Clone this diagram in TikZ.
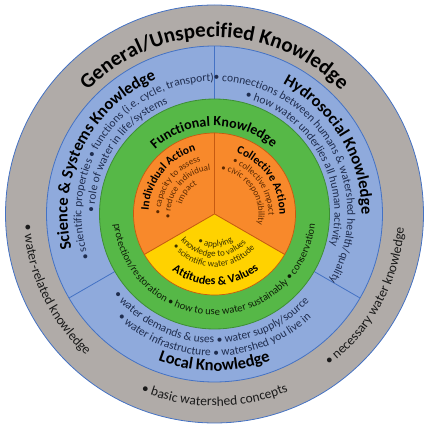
\documentclass[tikz,border=0pt]{standalone}
\usepackage{fontspec}
\setmainfont{Carlito}
\usetikzlibrary{decorations.text}
\definecolor{ringgray}{HTML}{B0ABA8}
\definecolor{ringblue}{HTML}{8FAADC}
\definecolor{lineblue}{HTML}{4472C4}
\definecolor{ringgreen}{HTML}{56B847}
\definecolor{linegreen}{HTML}{3E8E35}
\definecolor{secorange}{HTML}{F8892B}
\definecolor{lineorange}{HTML}{C65A11}
\definecolor{secyellow}{HTML}{FFD200}
\definecolor{graytext}{HTML}{1A1A1A}
\definecolor{bluetext}{HTML}{1F2D4F}
\definecolor{greentext}{HTML}{0E1F08}
\definecolor{browntext}{HTML}{5A2800}
\definecolor{olivetext}{HTML}{3D3300}
% #1 colour, #2 font, #3 radius, #4 start angle, #5 end angle, #6 text
\newcommand\ringtext[6]{%
  \path[decorate, decoration={text along path, text align=center,
    text color=#1, text={|#2|#6}}]
    (#4:#3) arc[start angle=#4, end angle=#5, radius=#3];}
\newcommand\fs[1]{\fontsize{#1}{#1}\selectfont}
\begin{document}
\begin{tikzpicture}[x=1pt, y=1pt,
  ringline/.style={line width=0.8pt},
  sector/.style={line width=0.7pt, draw=lineorange}]
\useasboundingbox (-214.5,-214) rectangle (214.5,214);
% rings
\fill[ringgray, draw=lineblue, ringline] (0,0) circle[radius=209];
\fill[ringblue, draw=lineblue, ringline] (0,0) circle[radius=168];
\draw[lineblue, ringline] (90:115) -- (90:168);
\draw[lineblue, ringline] (210:115) -- (210:168);
\draw[lineblue, ringline] (330:115) -- (330:168);
\fill[ringgreen, draw=linegreen, ringline] (0,0) circle[radius=115];
% sectors
\path[sector, fill=secorange] (0,0) -- (90:81) arc[start angle=90, end angle=210, radius=81] -- cycle;
\path[sector, fill=secorange] (0,0) -- (-30:81) arc[start angle=-30, end angle=90, radius=81] -- cycle;
\path[sector, fill=secyellow] (0,0) -- (210:81) arc[start angle=210, end angle=330, radius=81] -- cycle;
% gray ring
\ringtext{black}{\fs{21}\bfseries}{177}{170}{10}{General/Unspecified Knowledge}
\ringtext{graytext}{\fs{13.5}}{191}{170}{241}{• water-related knowledge}
\ringtext{graytext}{\fs{13.5}}{192}{235}{305}{• basic watershed concepts}
\ringtext{graytext}{\fs{13.5}}{190}{296}{367}{• necessary water knowledge}
% blue ring
\ringtext{black}{\fs{16.5}\bfseries}{147}{215}{92}{Science {\&} Systems Knowledge}
\ringtext{bluetext}{\fs{11.5}}{133}{205}{85}{• scientific properties • functions (i.e. cycle, transport)}
\ringtext{bluetext}{\fs{11.5}}{120}{206}{86}{• role of water in life/systems}
\ringtext{black}{\fs{16.5}\bfseries}{147}{91}{-29}{Hydrosocial Knowledge}
\ringtext{bluetext}{\fs{11.5}}{133}{92}{-32}{• connections between humans {\&} watershed health/quality}
\ringtext{bluetext}{\fs{11.5}}{120}{90}{-30}{• how water underlies all human activity}
\ringtext{black}{\fs{16.5}\bfseries}{157}{210}{330}{Local Knowledge}
\ringtext{bluetext}{\fs{11.5}}{129}{208}{328}{• water demands {\&} uses • water supply/source}
\ringtext{bluetext}{\fs{11.5}}{142}{210}{330}{• water infrastructure • watershed you live in}
% green ring
\ringtext{black}{\fs{14}\bfseries}{88}{160}{21}{Functional Knowledge}
\ringtext{greentext}{\fs{10.5}}{101}{170}{370}{protection/restoration • how to use water sustainably • conservation}
% orange sectors
\ringtext{black}{\fs{11.5}\bfseries}{66}{200}{83}{Individual Action}
\ringtext{browntext}{\fs{9}}{54}{200}{85}{• capacity to assess}
\ringtext{browntext}{\fs{9}}{44}{198}{83}{• reduce individual}
\ringtext{browntext}{\fs{9}}{34}{200}{84}{impact}
\ringtext{black}{\fs{11.5}\bfseries}{65}{95}{-25}{Collective Action}
\ringtext{browntext}{\fs{9}}{54}{92}{-23}{• collective impact}
\ringtext{browntext}{\fs{9}}{44}{92}{-24}{• civic responsibility}
% yellow sector
\ringtext{black}{\fs{12}\bfseries}{71}{211}{331}{Attitudes {\&} Values}
\ringtext{olivetext}{\fs{9}}{53}{209}{329}{• scientific water attitude}
\ringtext{olivetext}{\fs{9}}{43}{208}{328}{knowledge to values}
\ringtext{olivetext}{\fs{9}}{33}{212}{332}{• applying}
\end{tikzpicture}
\end{document}
